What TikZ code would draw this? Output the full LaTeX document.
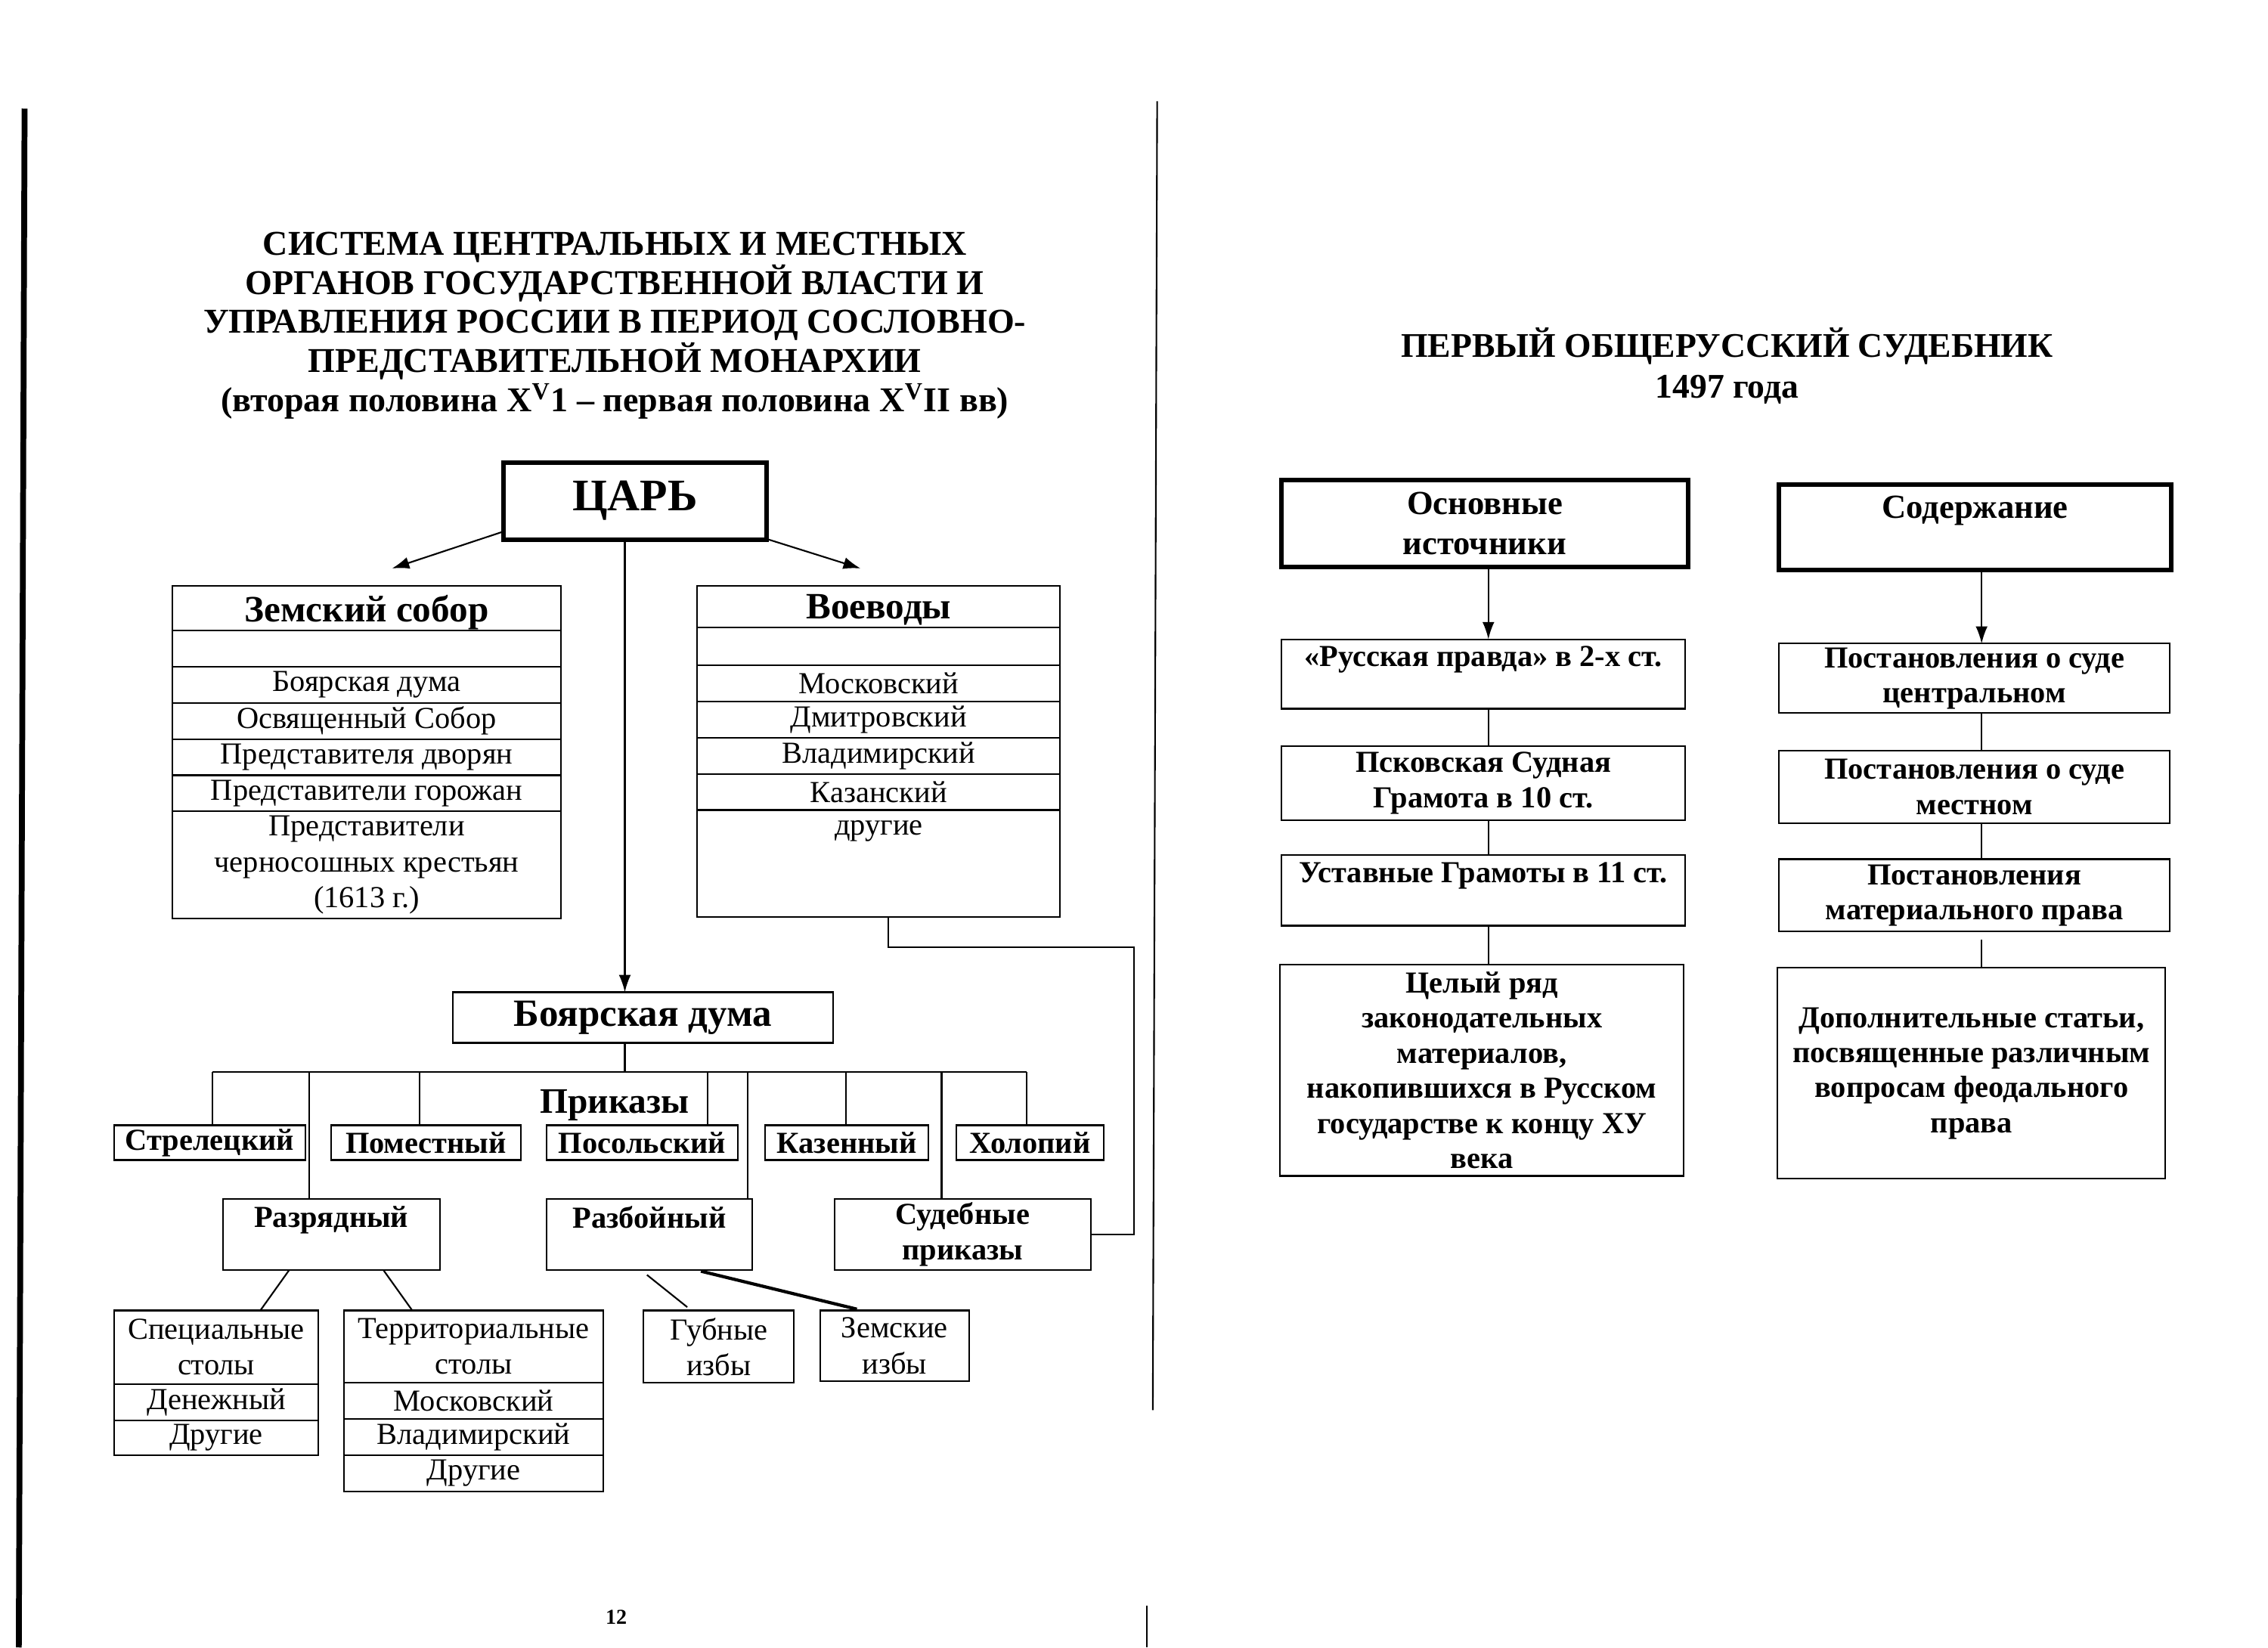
\documentclass[tikz,border=0pt]{standalone}
\usepackage{fontspec}
\setmainfont{Liberation Serif}
\usetikzlibrary{positioning,arrows.meta}
\newlength\upx
\setlength\upx{0.019133cm}
\newcommand\rowfont{\fontsize{11.5}{13.4}\selectfont}
\newcommand\bfrowfont{\bfseries\fontsize{11.5}{13.2}\selectfont}
\newcommand\hdfont{\bfseries\fontsize{14}{15}\selectfont}
\newcommand\titlefont{\bfseries\fontsize{13.1}{14.7}\selectfont}

\begin{document}
\begin{tikzpicture}[x=0.019133cm,y=-0.019133cm,line join=miter,
    >={Latex[length=6.5pt,width=4.5pt]},
    cell/.style 2 args={draw,line width=0.6pt,outer sep=0pt,inner sep=1pt,align=center,
      font=\rowfont,minimum width=#1*\upx,minimum height=#2*\upx},
    boldcell/.style 2 args={cell={#1}{#2},font=\bfrowfont},
    thickbox/.style 2 args={cell={#1}{#2},line width=1.7pt,font=\bfseries\fontsize{12.7}{15.2}\selectfont},
    link/.style={line width=0.6pt}]
  \useasboundingbox (0,0) rectangle (1568,1139);
  % page edges of the scan
  \draw[line width=2.2pt] (17,75) -- (13,1139);
  \draw[line width=0.6pt] (800,70) -- (797,975);
  \draw[line width=0.6pt] (793,1110) -- (793,1139);

  % left page
  \node[font=\titlefont,align=center] (title) at (425,225)
    {СИСТЕМА ЦЕНТРАЛЬНЫХ И МЕСТНЫХ\\ОРГАНОВ ГОСУДАРСТВЕННОЙ ВЛАСТИ И\\
     УПРАВЛЕНИЯ РОССИИ В ПЕРИОД СОСЛОВНО-\\ПРЕДСТАВИТЕЛЬНОЙ МОНАРХИИ\\
     (вторая половина X\textsuperscript{V}1 -- первая половина X\textsuperscript{V}II вв)};
  \node[thickbox={182}{53},font=\bfseries\fontsize{17}{18}\selectfont,text depth=4pt] (tsar) at (439,346.5) {ЦАРЬ};
  \coordinate (zsarr) at (271,393);
  \coordinate (vvarr) at (595,393);
  \coordinate (spine) at (432,0);
  \draw[->,link] (tsar.193) -- (zsarr);
  \draw[->,link] (tsar.344) -- (vvarr);

  \node[cell={269}{31},font=\hdfont,text depth=0pt] (zs0) at (253.5,420.5) {Земский собор};
  \foreach \t/\h [count=\i, remember=\i as \j (initially 0)] in
    {{}/25,Боярская дума/25,Освященный Собор/25,Представителя дворян/25,
     Представители горожан/25,{Представители\\черносошных крестьян\\(1613 г.)}/74}
    \node[cell={269}{\h},below=0pt of zs\j] (zs\i) {\t};

  \node[cell={251}{29},font=\hdfont,text depth=0pt] (vv0) at (607.5,419.5) {Воеводы};
  \foreach \t/\h [count=\i, remember=\i as \j (initially 0)] in
    {{}/26,Московский/25,Дмитровский/25,Владимирский/25,Казанский/25,{другие\\~\\~}/74}
    \node[cell={251}{\h},below=0pt of vv\j] (vv\i) {\t};

  \node[cell={263}{35},font=\bfseries\fontsize{14.5}{15}\selectfont] (bd) at (444.5,703.5) {Боярская дума};
  \draw[->,link] (tsar.south -| spine) -- (bd.north -| spine);
  \coordinate (barL) at (147,741);
  \coordinate (barR) at (710,741);
  \draw[link] (bd.south -| spine) -- (spine |- barL);
  \draw[link] (barL) -- (barR);
  \node[font=\bfseries\fontsize{13.5}{14}\selectfont] (prik) at (425,764) {Приказы};

  \foreach \n/\x/\w/\t in {strel/145/132/Стрелецкий,pomest/294.5/131/Поместный,
      posol/444/132/Посольский,kazen/585.5/113/Казенный,holop/712/102/Холопий}
    \node[boldcell={\w}{24}] (\n) at (\x,790) {\t};

  \node[boldcell={150}{49}] (razr) at (229,853.5) {Разрядный\\~};
  \node[boldcell={142}{49}] (razb) at (449,853.5) {Разбойный\\~};
  \node[boldcell={177}{49}] (sud) at (665.5,853.5) {Судебные\\приказы};

  \foreach \n/\x in {strel/147,razr/214,pomest/290,posol/489,razb/517,kazen/585,sud/651,holop/710}
    \draw[link] (\x,741) -- (\x,741 |- \n.north);
  \draw[link] (vv6.south -| 614,0) -- (614,655) -- (784,655) |- (sud.east);

  \node[cell={141}{51}] (sp0) at (149.5,931.5) {Специальные\\столы};
  \foreach \t/\h [count=\i, remember=\i as \j (initially 0)] in {Денежный/25,Другие/24}
    \node[cell={141}{\h},below=0pt of sp\j] (sp\i) {\t};
  \node[cell={179}{50}] (tr0) at (327.5,931) {Территориальные\\столы};
  \foreach \t/\h [count=\i, remember=\i as \j (initially 0)] in {Московский/25,Владимирский/25,Другие/25}
    \node[cell={179}{\h},below=0pt of tr\j] (tr\i) {\t};
  \node[cell={104}{50}] (gub) at (497,931) {Губные\\избы};
  \node[cell={103}{49}] (zem) at (618.5,930.5) {Земские\\избы};

  \draw[link] (razr.south -| 200,0) -- (sp0.north -| 180,0);
  \draw[link] (razr.south -| 265,0) -- (tr0.north -| 285,0);
  \draw[link,shorten <=3pt,shorten >=2pt] (razb.south -| 443,0) -- (gub.north -| 478,0);
  \draw[line width=1.2pt,shorten <=2pt,shorten >=2pt] (razb.south -| 481,0) -- (zem.north -| 596,0);

  \node[font=\bfseries\fontsize{8}{9}\selectfont] (pgnum) at (426,1118) {12};

  % right page
  \node[font=\bfseries\fontsize{13}{15.2}\selectfont,align=center] (sudt) at (1194,253)
    {ПЕРВЫЙ ОБЩЕРУССКИЙ СУДЕБНИК\\1497 года};
  \node[thickbox={281}{60}] (osn) at (1026.5,362) {Основные\\источники};
  \node[thickbox={271}{59}] (sod) at (1365.5,364.5) {Содержание\\~};

  \node[boldcell={279}{48}] (rp) at (1025.5,466) {«Русская правда» в 2-х ст.\\~};
  \node[boldcell={279}{51}] (psk) at (1025.5,541.5) {Псковская Судная\\Грамота в 10 ст.};
  \node[boldcell={279}{49}] (ust) at (1025.5,615.5) {Уставные Грамоты в 11 ст.\\~};
  \node[boldcell={279}{146}] (cel) at (1024.5,740) {Целый ряд\\законодательных\\материалов,\\
    накопившихся в Русском\\государстве к концу ХУ\\века};

  \node[boldcell={270}{48}] (pc) at (1365,469) {Постановления о суде\\центральном};
  \node[boldcell={270}{50}] (pm) at (1365,544) {Постановления о суде\\местном};
  \node[boldcell={270}{50}] (pmat) at (1365,619) {Постановления\\материального права};
  \node[boldcell={268}{146}] (dop) at (1363,742) {Дополнительные статьи,\\посвященные различным\\
    вопросам феодального\\права};

  \coordinate (lcol) at (1029,0);
  \coordinate (rcol) at (1370,0);
  \draw[->,link] (osn.south -| lcol) -- (rp.north -| lcol);
  \draw[->,link] (sod.south -| rcol) -- (pc.north -| rcol);
  \foreach \a/\b in {rp/psk,psk/ust,ust/cel}
    \draw[link] (\a.south -| lcol) -- (\b.north -| lcol);
  \foreach \a/\b in {pc/pm,pm/pmat}
    \draw[link] (\a.south -| rcol) -- (\b.north -| rcol);
  \draw[link,shorten <=3pt] (pmat.south -| rcol) -- (dop.north -| rcol);
\end{tikzpicture}
\end{document}
